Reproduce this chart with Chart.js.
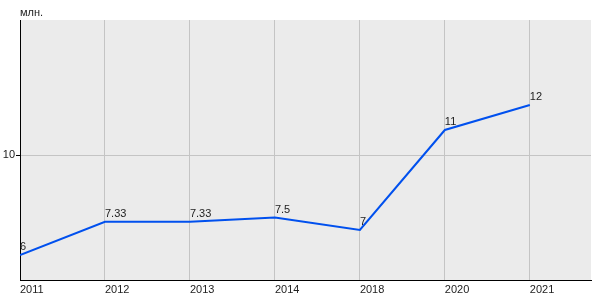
<!DOCTYPE html>
<html>
<head>
<meta charset="utf-8">
<script src="https://cdn.jsdelivr.net/npm/chart.js@4.4.0/dist/chart.umd.min.js"></script>
<style>
    html, body { margin: 0; padding: 0; background: #fff; }
    #wrap { width: 600px; height: 300px; }
</style>
</head>
<body>
<div id="wrap"><canvas id="chart"></canvas></div>
<script>
const years = ['2011', '2012', '2013', '2014', '2018', '2020', '2021'];
const values = [6, 7.33, 7.33, 7.5, 7, 11, 12];
const yTicks = [10];
const unitLabel = 'млн.';

Chart.defaults.font.family = '"Liberation Sans", Arial, sans-serif';
Chart.defaults.font.size = 11;
Chart.defaults.color = '#222';

const plotBackground = {
    id: 'plotBackground',
    beforeDraw(chart) {
        const a = chart.chartArea;
        const ctx = chart.ctx;
        ctx.save();
        ctx.fillStyle = '#ebebeb';
        ctx.fillRect(a.left, a.top, a.right - a.left, a.bottom - a.top);
        ctx.restore();
    }
};

const extraText = {
    id: 'extraText',
    afterDatasetsDraw(chart) {
        const ctx = chart.ctx;
        const a = chart.chartArea;
        ctx.save();
        ctx.font = '11px "Liberation Sans", Arial, sans-serif';
        ctx.fillStyle = '#222';
        ctx.textAlign = 'left';
        ctx.textBaseline = 'alphabetic';
        ctx.fillText(unitLabel, a.left, a.top - 4);
        chart.getDatasetMeta(0).data.forEach(function (pt, i) {
            ctx.fillText(String(values[i]), pt.x, pt.y - 5);
        });
        ctx.restore();
    }
};

new Chart(document.getElementById('chart'), {
    type: 'line',
    data: {
        datasets: [{
            data: values.map(function (v, i) { return { x: i, y: v }; }),
            borderColor: '#0050ee',
            borderWidth: 2,
            pointRadius: 0,
            tension: 0,
            fill: false
        }]
    },
    options: {
        responsive: true,
        maintainAspectRatio: false,
        animation: false,
        layout: { padding: { top: 20, right: 9, left: 0, bottom: 0 } },
        plugins: {
            legend: { display: false },
            tooltip: { enabled: false }
        },
        scales: {
            x: {
                type: 'linear',
                min: 0,
                max: 6.72,
                afterBuildTicks: function (axis) {
                    axis.ticks = years.map(function (_, i) { return { value: i }; });
                },
                afterFit: function (axis) { axis.height = 20; },
                ticks: {
                    align: 'start',
                    padding: 3,
                    maxRotation: 0,
                    autoSkip: false,
                    callback: function (v) { return years[v]; }
                },
                grid: { color: '#c4c4c4', drawTicks: false },
                border: { color: '#000', width: 1 }
            },
            y: {
                min: 5,
                max: 15.4,
                afterBuildTicks: function (axis) {
                    axis.ticks = yTicks.map(function (v) { return { value: v }; });
                },
                afterFit: function (axis) { axis.width = 20; },
                ticks: { padding: 1 },
                grid: { color: '#c4c4c4', tickColor: '#000', tickLength: 4 },
                border: { color: '#000', width: 1 }
            }
        }
    },
    plugins: [plotBackground, extraText]
});
</script>
</body>
</html>
